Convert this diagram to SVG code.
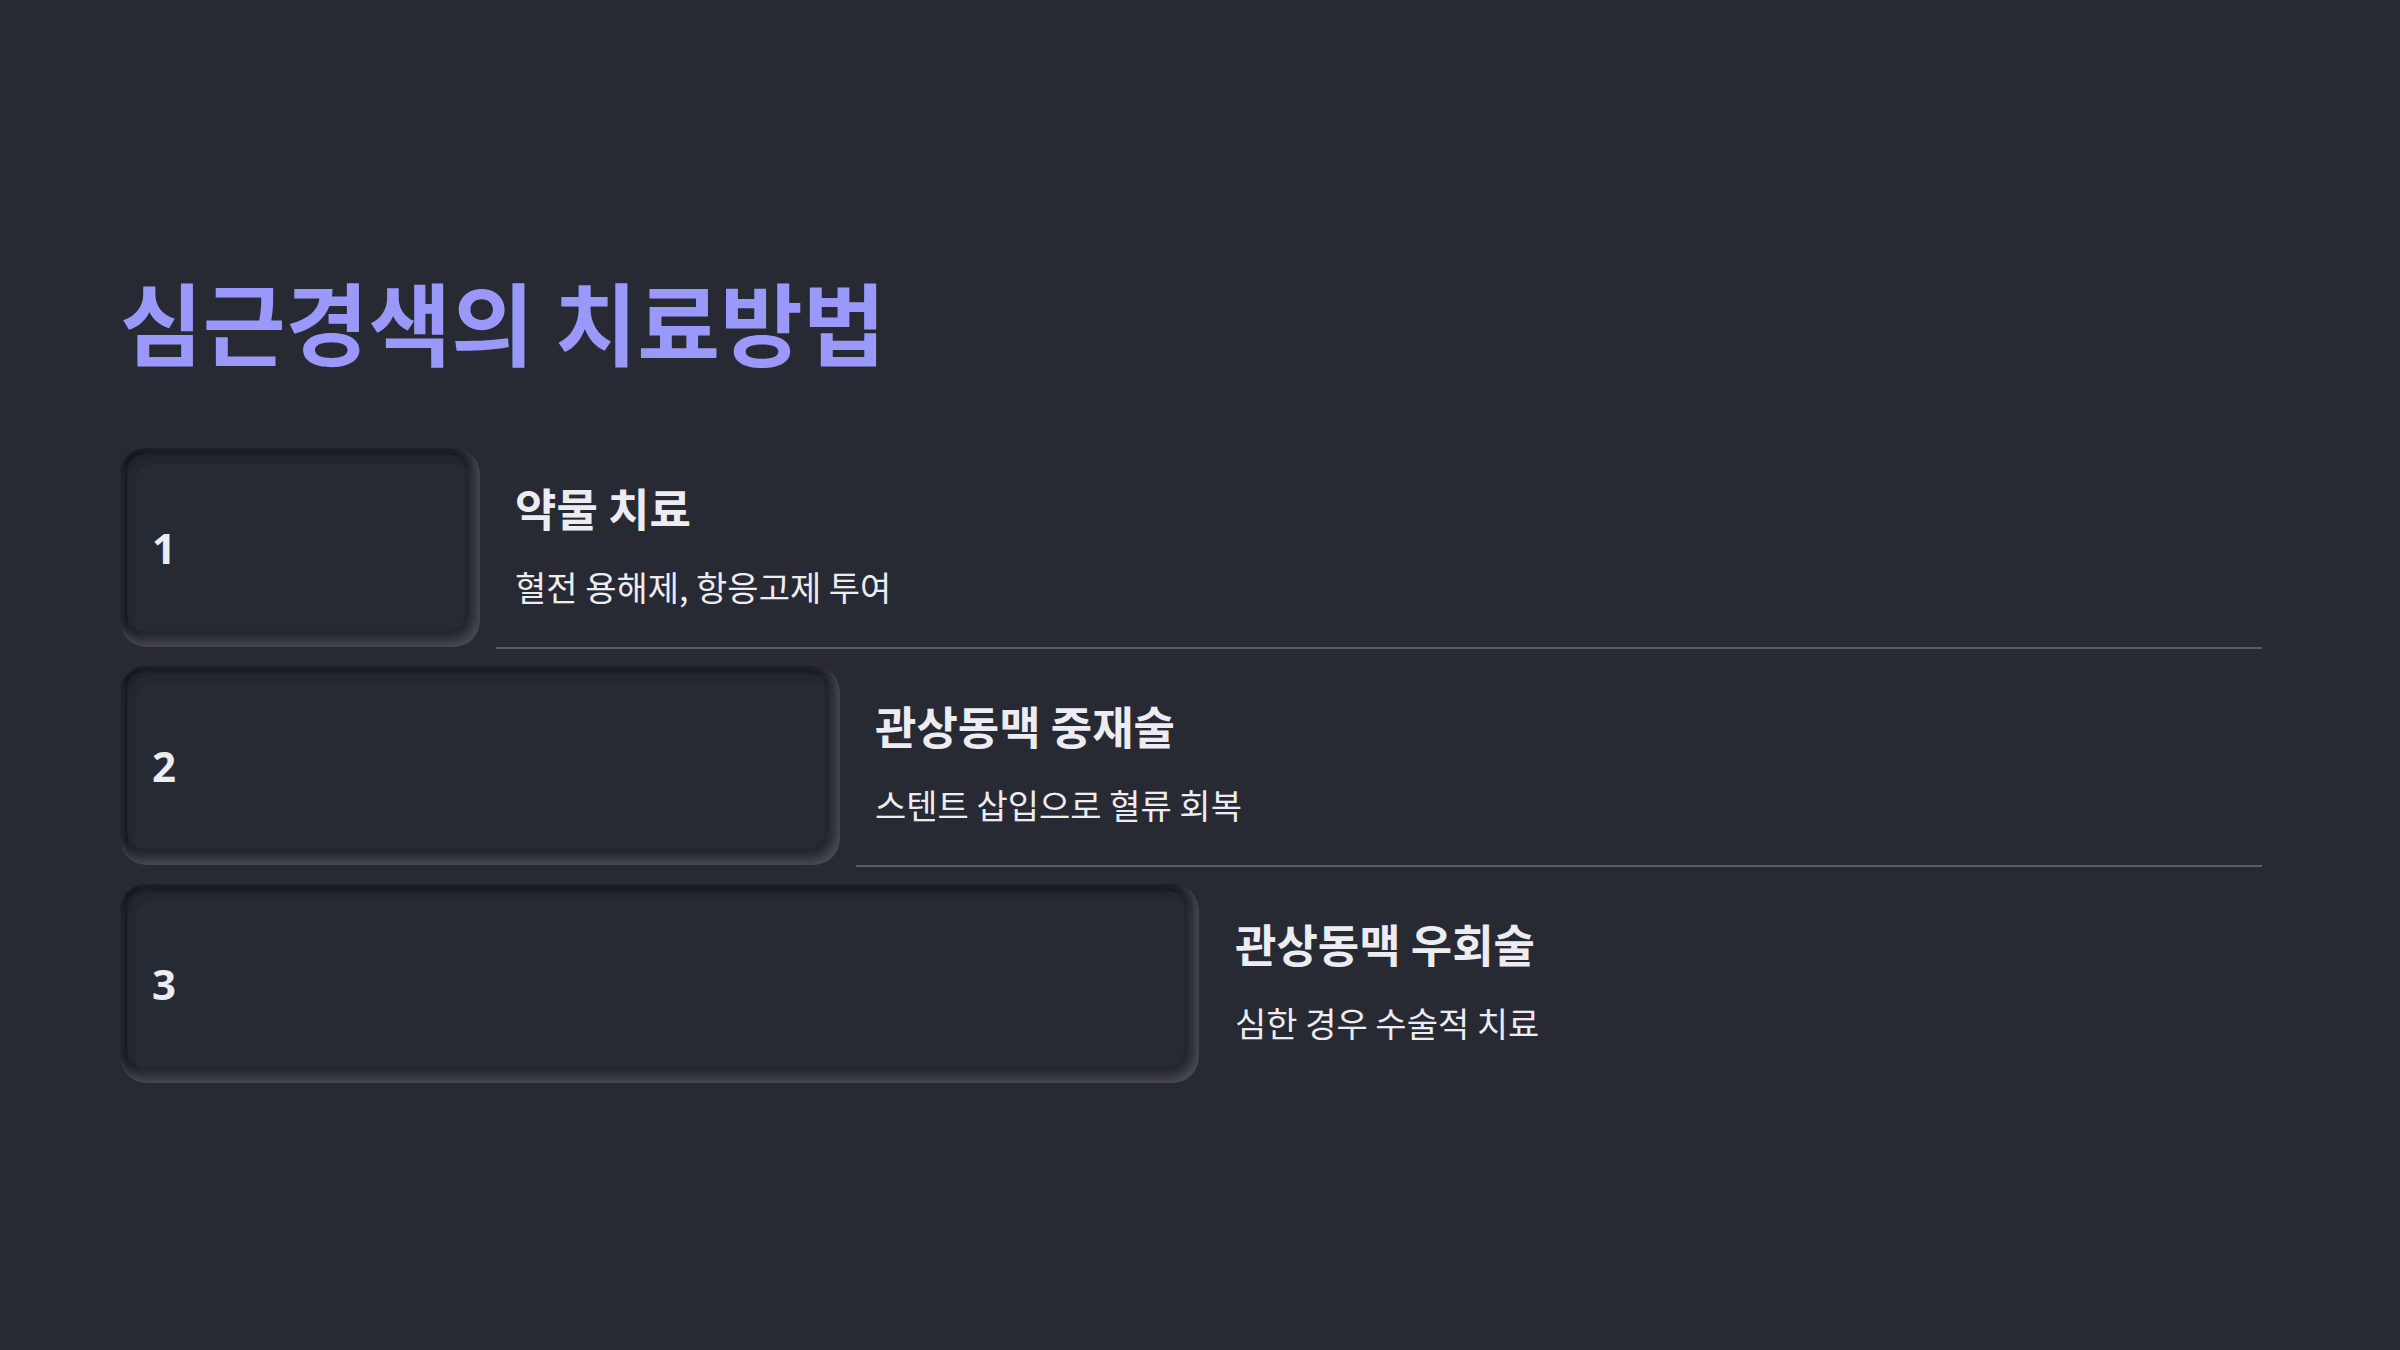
<svg xmlns="http://www.w3.org/2000/svg" width="2400" height="1350" viewBox="0 0 2400 1350">
<defs>
<style>
.title{font-family:"Noto Sans CJK KR","Noto Sans",sans-serif;font-weight:700;font-size:90px;fill:#9b98fc}
.num{font-family:"Noto Sans","Noto Sans CJK KR",sans-serif;font-weight:700;font-size:42px;fill:#ececf2}
.head{font-family:"Noto Sans CJK KR","Noto Sans",sans-serif;font-weight:700;font-size:45px;fill:#ececf2}
.desc{font-family:"Noto Sans CJK KR","Noto Sans",sans-serif;font-weight:400;font-size:34px;fill:#ececf2}
.box{fill:#282a32;filter:url(#inset)}
.sep{stroke:#5a5c66;stroke-width:2}
</style>
<filter id="inset" x="-5%" y="-5%" width="110%" height="110%">
<feOffset in="SourceAlpha" dx="4" dy="5" result="off1"/>
<feGaussianBlur in="off1" stdDeviation="5" result="b1"/>
<feComposite in="SourceAlpha" in2="b1" operator="out" result="e1"/>
<feFlood flood-color="#111216" flood-opacity="0.75"/>
<feComposite in2="e1" operator="in" result="dark"/>
<feOffset in="SourceAlpha" dx="-4" dy="-5" result="off2"/>
<feGaussianBlur in="off2" stdDeviation="5" result="b2"/>
<feComposite in="SourceAlpha" in2="b2" operator="out" result="e2"/>
<feFlood flood-color="#4c4e56" flood-opacity="0.9"/>
<feComposite in2="e2" operator="in" result="light"/>
<feMerge><feMergeNode in="SourceGraphic"/><feMergeNode in="dark"/><feMergeNode in="light"/></feMerge>
<feComposite in2="SourceAlpha" operator="in"/>
</filter>
</defs>
<rect width="2400" height="1350" fill="#282a33"/>
<text class="title" x="120" y="359">심근경색의 치료방법</text>
<g id="connectors">
<line class="sep" x1="496" y1="648" x2="2262" y2="648"/>
<line class="sep" x1="856" y1="866" x2="2262" y2="866"/>
</g>
<g id="step1">
<rect class="box" x="120" y="448" width="360" height="199" rx="26"/>
<text class="num" x="152" y="564">1</text>
<text class="head" x="515" y="527">약물 치료</text>
<text class="desc" x="515" y="601">혈전 용해제, 항응고제 투여</text>
</g>
<g id="step2">
<rect class="box" x="120" y="666" width="720" height="199" rx="26"/>
<text class="num" x="152" y="782">2</text>
<text class="head" x="875" y="745">관상동맥 중재술</text>
<text class="desc" x="875" y="819">스텐트 삽입으로 혈류 회복</text>
</g>
<g id="step3">
<rect class="box" x="120" y="884" width="1079" height="199" rx="26"/>
<text class="num" x="152" y="1000">3</text>
<text class="head" x="1235" y="963">관상동맥 우회술</text>
<text class="desc" x="1235" y="1037">심한 경우 수술적 치료</text>
</g>
</svg>
